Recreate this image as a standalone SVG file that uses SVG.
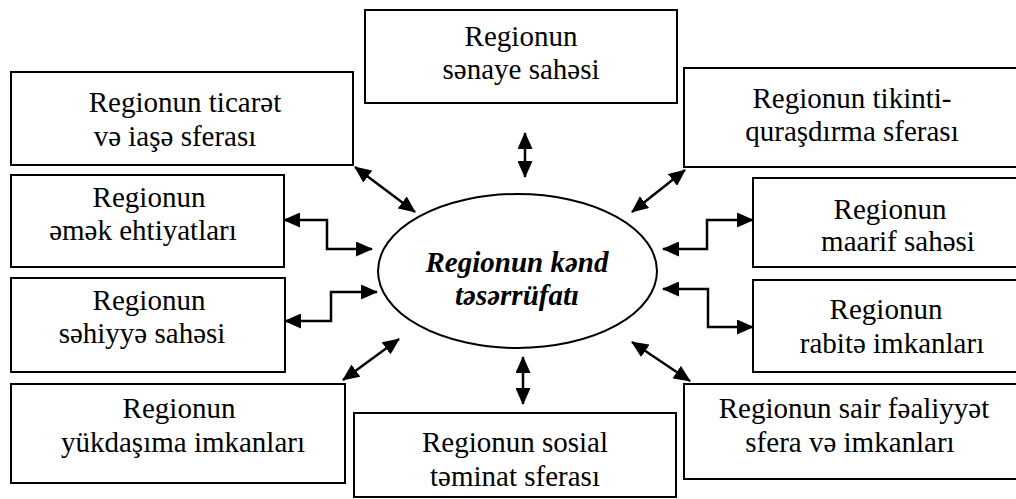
<svg xmlns="http://www.w3.org/2000/svg" width="1016" height="499" viewBox="0 0 1016 499">
<style>
.box{fill:#fff;stroke:#000;stroke-width:2}
text{font-family:'Liberation Serif','Times New Roman','DejaVu Serif',serif;font-size:29px;fill:#000;text-anchor:middle}
.c{font-weight:bold;font-style:italic}
.ln{fill:none;stroke:#000;stroke-width:2.5;marker-start:url(#ah);marker-end:url(#ah)}
</style>
<defs>
<marker id="ah" viewBox="0 0 17 15" refX="16" refY="7.5" markerWidth="17" markerHeight="15" markerUnits="userSpaceOnUse" orient="auto-start-reverse">
<path d="M0,0 L17,7.5 L0,15 z" fill="#000"/>
</marker>
</defs>
<rect width="1016" height="499" fill="#fff"/>
<g id="connectors">
<line class="ln" x1="525" y1="133" x2="525" y2="177"/>
<line class="ln" x1="355" y1="167" x2="415" y2="212"/>
<line class="ln" x1="685" y1="170" x2="632" y2="212"/>
<polyline class="ln" points="284,220 327,220 327,249 372,249"/>
<polyline class="ln" points="285,321 331,321 331,292 377,292"/>
<polyline class="ln" points="753,220 707,220 707,249 663,249"/>
<polyline class="ln" points="663,289 708,289 708,327 753,327"/>
<line class="ln" x1="399" y1="339" x2="343" y2="380"/>
<line class="ln" x1="523" y1="357" x2="523" y2="404"/>
<line class="ln" x1="632" y1="342" x2="690" y2="381"/>
</g>
<g id="center">
<ellipse cx="517.5" cy="271" rx="139.5" ry="77" fill="#fff" stroke="#000" stroke-width="2"/>
<text class="c" x="517" y="272">Regionun kənd</text>
<text class="c" x="517" y="305">təsərrüfatı</text>
</g>
<g id="senaye">
<rect class="box" x="365" y="10" width="312" height="93"/>
<text x="521" y="46">Regionun</text>
<text x="521" y="79">sənaye sahəsi</text>
</g>
<g id="ticaret">
<rect class="box" x="11" y="72" width="342" height="93"/>
<text x="185" y="112">Regionun ticarət</text>
<text x="175" y="146">və iaşə sferası</text>
</g>
<g id="tikinti">
<rect class="box" x="684" y="68" width="340" height="99"/>
<text x="852" y="108">Regionun tikinti-</text>
<text x="852" y="141">quraşdırma sferası</text>
</g>
<g id="emek">
<rect class="box" x="11" y="175" width="273" height="92"/>
<text x="149" y="207">Regionun</text>
<text x="143" y="240">əmək ehtiyatları</text>
</g>
<g id="maarif">
<rect class="box" x="753" y="178" width="270" height="89"/>
<text x="890" y="219">Regionun</text>
<text x="898" y="251">maarif sahəsi</text>
</g>
<g id="sehiyye">
<rect class="box" x="11" y="278" width="274" height="94"/>
<text x="149" y="310">Regionun</text>
<text x="142" y="343">səhiyyə sahəsi</text>
</g>
<g id="rabite">
<rect class="box" x="753" y="280" width="270" height="92"/>
<text x="886" y="319">Regionun</text>
<text x="892" y="353">rabitə imkanları</text>
</g>
<g id="yukdasima">
<rect class="box" x="11" y="384" width="334" height="99"/>
<text x="179" y="418">Regionun</text>
<text x="183" y="452">yükdaşıma imkanları</text>
</g>
<g id="sosial">
<rect class="box" x="354" y="413" width="322" height="84"/>
<text x="515" y="452">Regionun sosial</text>
<text x="515" y="486">təminat sferası</text>
</g>
<g id="sair">
<rect class="box" x="684" y="384" width="340" height="95"/>
<text x="854" y="418">Regionun sair fəaliyyət</text>
<text x="850" y="452">sfera və imkanları</text>
</g>
</svg>
